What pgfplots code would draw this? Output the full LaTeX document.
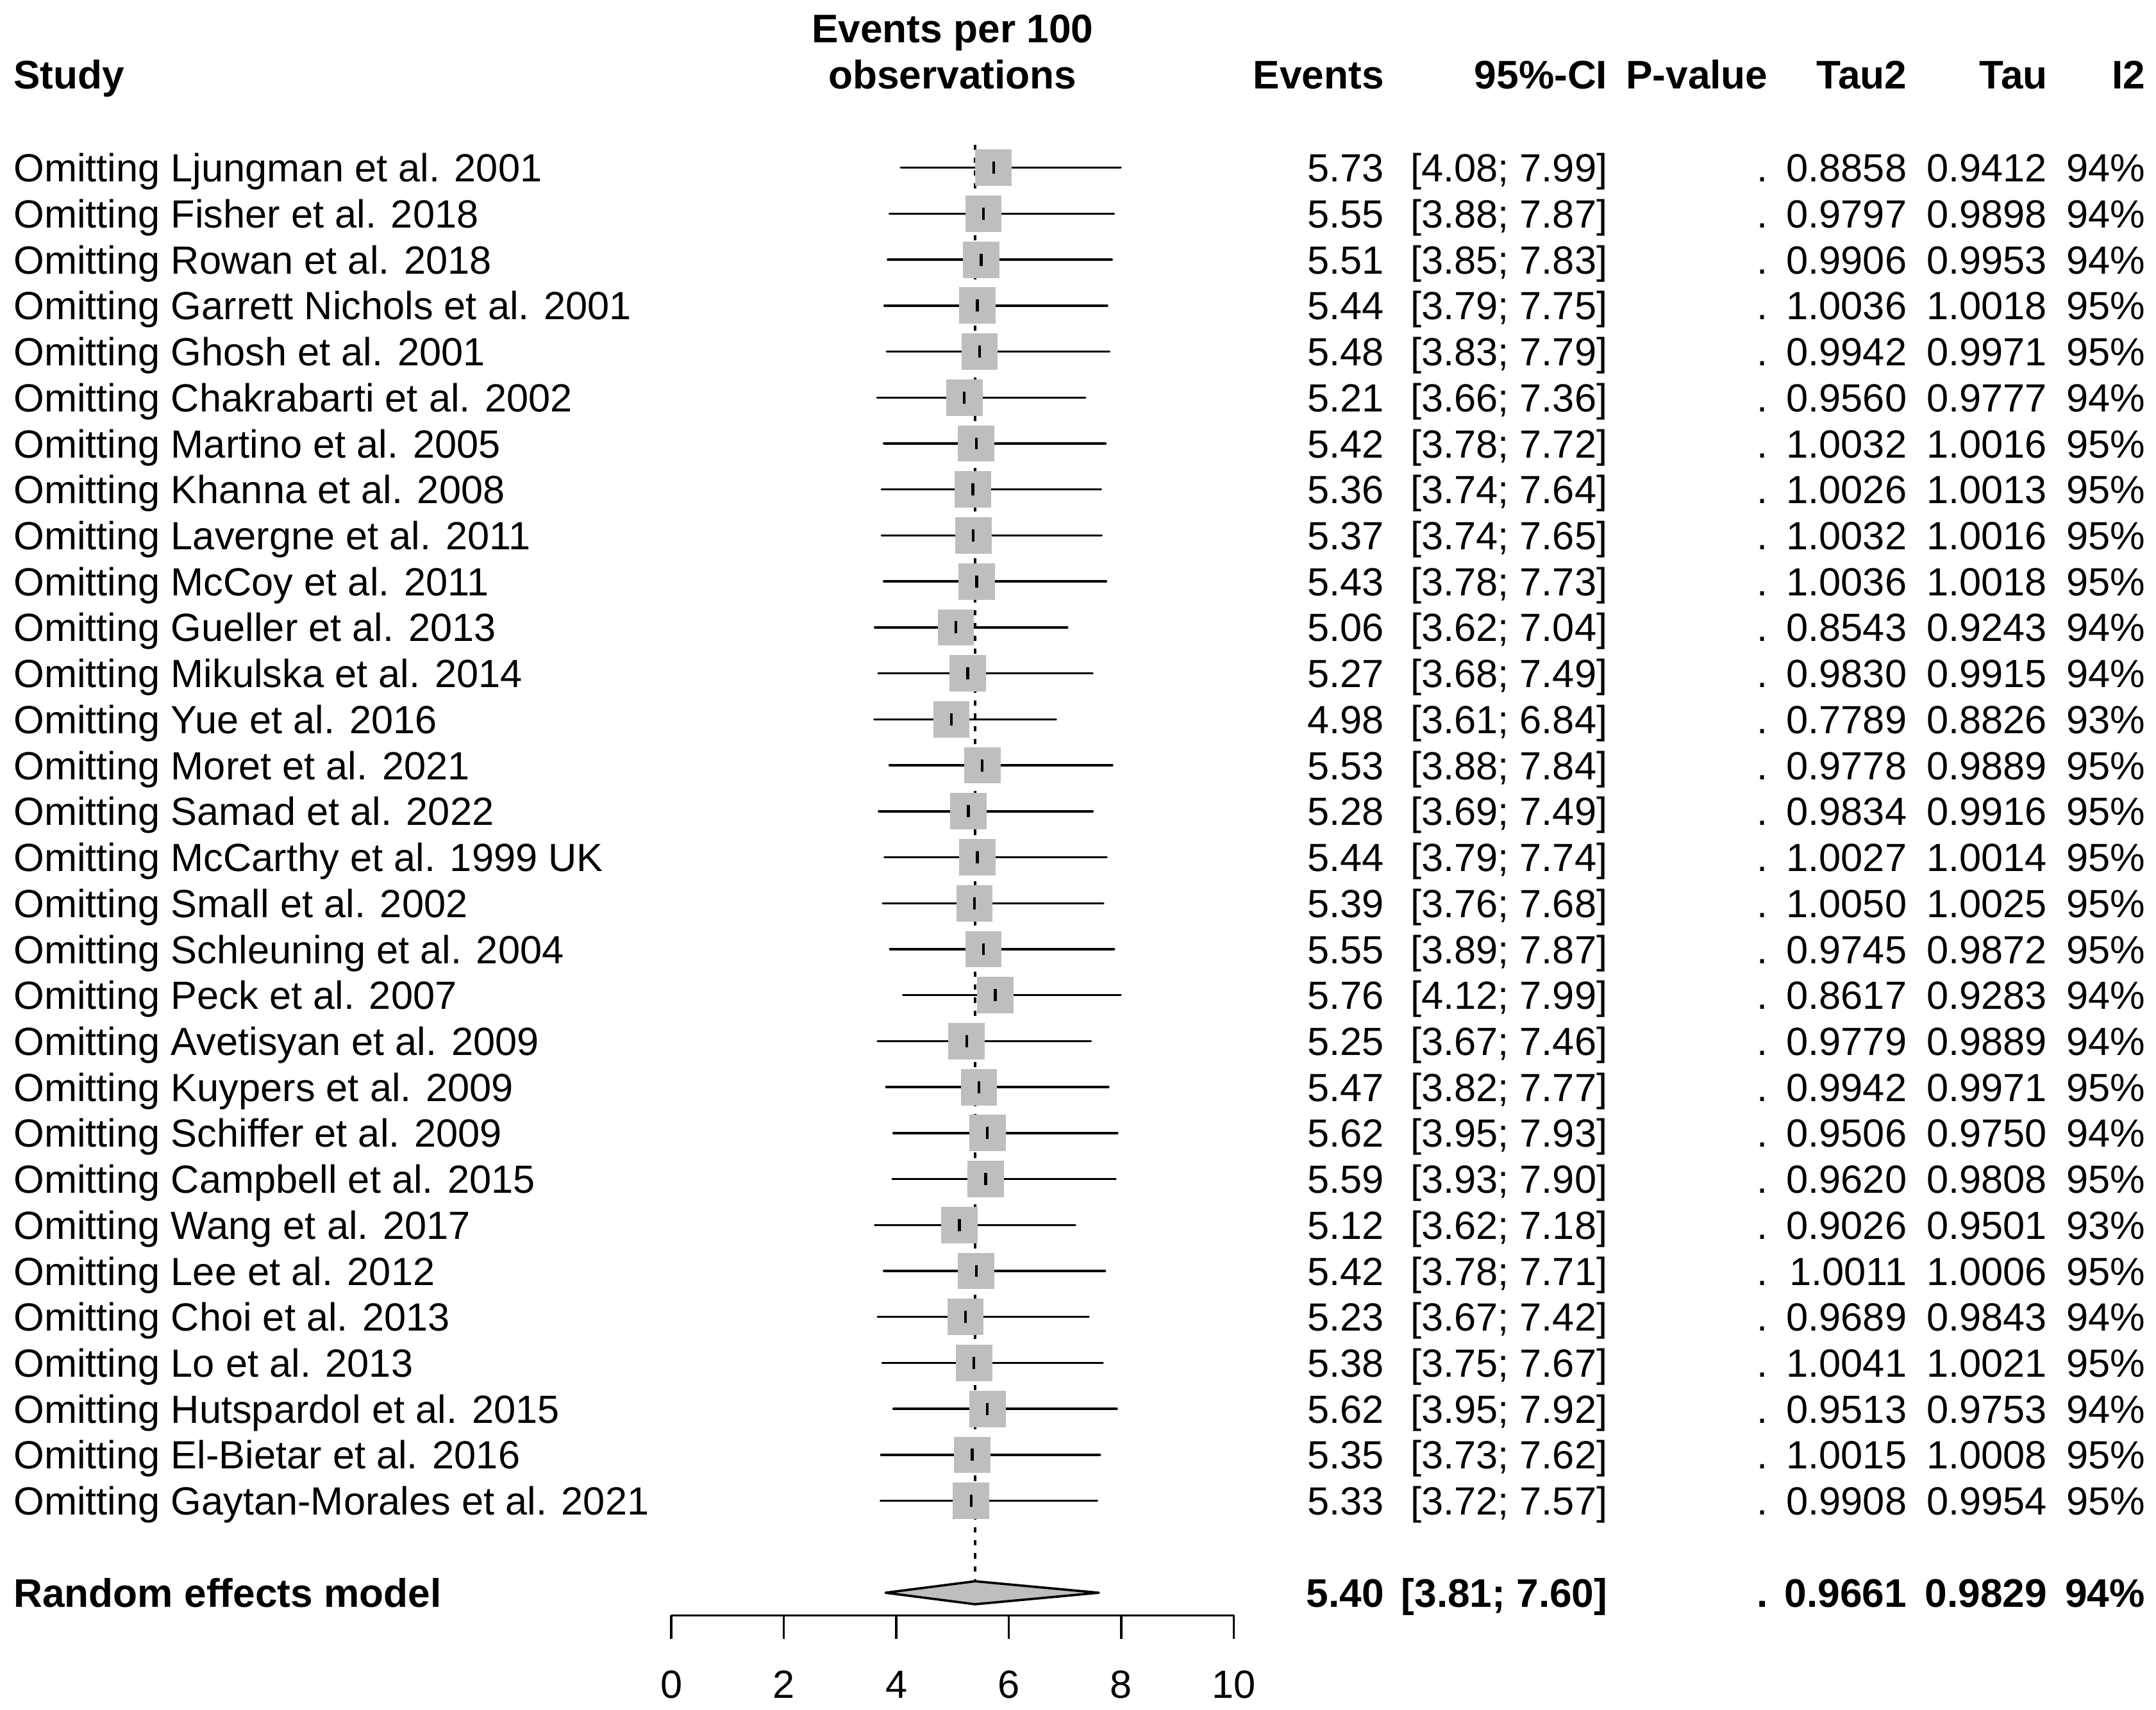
\documentclass[border=0pt]{standalone}
\usepackage{fontspec}
\setmainfont{Liberation Sans}
\usepackage{pgfplots}
\usepackage{pgfplotstable}
\pgfplotsset{compat=1.18}
\definecolor{boxgray}{RGB}{190,190,190}
\newcommand\fs{\fontsize{14.3}{17}\selectfont}
\newcommand\fb{\fontsize{14.5}{17}\selectfont\bfseries}

\pgfplotstableread{
row est lo hi
1 5.73 4.08 7.99
2 5.55 3.88 7.87
3 5.51 3.85 7.83
4 5.44 3.79 7.75
5 5.48 3.83 7.79
6 5.21 3.66 7.36
7 5.42 3.78 7.72
8 5.36 3.74 7.64
9 5.37 3.74 7.65
10 5.43 3.78 7.73
11 5.06 3.62 7.04
12 5.27 3.68 7.49
13 4.98 3.61 6.84
14 5.53 3.88 7.84
15 5.28 3.69 7.49
16 5.44 3.79 7.74
17 5.39 3.76 7.68
18 5.55 3.89 7.87
19 5.76 4.12 7.99
20 5.25 3.67 7.46
21 5.47 3.82 7.77
22 5.62 3.95 7.93
23 5.59 3.93 7.90
24 5.12 3.62 7.18
25 5.42 3.78 7.71
26 5.23 3.67 7.42
27 5.38 3.75 7.67
28 5.62 3.95 7.92
29 5.35 3.73 7.62
30 5.33 3.72 7.57
}\studies

\begin{document}
\begin{tikzpicture}
\useasboundingbox (0,0) rectangle (784pt,621.75pt);
\begin{axis}[at={(0,0)}, anchor=south west, scale only axis,
  width=784pt, height=621.75pt,
  xmin=-11.9335, xmax=26.3945, ymin=-2.6483, ymax=34.5377,
  y dir=reverse, hide axis, clip=false]
% reference line (random effects estimate)
\addplot[black, line width=0.75pt, dash pattern=on 1.9pt off 2.8pt]
  coordinates {(5.40,0.5) (5.40,31.75)};
% study squares
\addplot[only marks, mark=square*, mark size=6.5pt,
  mark options={fill=boxgray, draw=boxgray, line width=0pt}]
  table[x=est, y=row]{\studies};
% confidence intervals and point estimates
\addplot[only marks, black, mark=|, mark size=2.2pt,
  mark options={line width=1pt, black},
  error bars/.cd, x dir=both, x explicit, error mark=none,
  error bar style={line width=0.8pt, black, line cap=round}]
  table[x=est, y=row,
    x error plus expr=\thisrow{hi}-\thisrow{est},
    x error minus expr=\thisrow{est}-\thisrow{lo}]{\studies};
% random effects diamond
\addplot[fill=boxgray, draw=black, line width=0.85pt, line join=round]
  coordinates {(3.81,32) (5.40,31.75) (7.60,32) (5.40,32.25)} -- cycle;
\end{axis}

\begin{axis}[at={(244.1pt,34.25pt)}, anchor=south west, scale only axis,
  width=204.55pt, height=10pt,
  xmin=0, xmax=10, ymin=0, ymax=1,
  axis x line=bottom, axis y line=none,
  axis line style={-, line width=0.75pt, black},
  xtick={0,2,4,6,8,10}, xtick align=outside, major tick length=8.55pt,
  tick style={line width=0.75pt, black},
  xticklabel style={font=\fs, anchor=base, inner sep=0pt, yshift=-21.7pt},
  /pgf/number format/assume math mode=true]
\end{axis}

\begin{scope}[shift={(0,621.75pt)}, x=0.5pt, y=-0.5pt,
  every node/.style={inner sep=0pt, outer sep=0pt, font=\fs}]
% headers
\node[anchor=base west, font=\fb] at (10,64.4) {Study};
\node[anchor=base, font=\fb] at (692.75,31.0) {Events per 100};
\node[anchor=base, font=\fb] at (692.75,64.4) {observations};
\node[anchor=base east, font=\fb] at (1006.5,64.4) {Events};
\node[anchor=base east, font=\fb] at (1169,64.4) {95\%-CI};
\node[anchor=base east, font=\fb] at (1285.7,64.4) {P-value};
\node[anchor=base east, font=\fb] at (1386.7,64.4) {Tau2};
\node[anchor=base east, font=\fb] at (1489,64.4) {Tau};
\node[anchor=base east, font=\fb] at (1560,64.4) {I2};
% study rows
\foreach \i/\nm/\ev/\lo/\hi/\ta/\t/\ii in {
1/Ljungman et al. 2001/5.73/4.08/7.99/0.8858/0.9412/94,
2/Fisher et al. 2018/5.55/3.88/7.87/0.9797/0.9898/94,
3/Rowan et al. 2018/5.51/3.85/7.83/0.9906/0.9953/94,
4/Garrett Nichols et al. 2001/5.44/3.79/7.75/1.0036/1.0018/95,
5/Ghosh et al. 2001/5.48/3.83/7.79/0.9942/0.9971/95,
6/Chakrabarti et al. 2002/5.21/3.66/7.36/0.9560/0.9777/94,
7/Martino et al. 2005/5.42/3.78/7.72/1.0032/1.0016/95,
8/Khanna et al. 2008/5.36/3.74/7.64/1.0026/1.0013/95,
9/Lavergne et al. 2011/5.37/3.74/7.65/1.0032/1.0016/95,
10/McCoy et al. 2011/5.43/3.78/7.73/1.0036/1.0018/95,
11/Gueller et al. 2013/5.06/3.62/7.04/0.8543/0.9243/94,
12/Mikulska et al. 2014/5.27/3.68/7.49/0.9830/0.9915/94,
13/Yue et al. 2016/4.98/3.61/6.84/0.7789/0.8826/93,
14/Moret et al. 2021/5.53/3.88/7.84/0.9778/0.9889/95,
15/Samad et al. 2022/5.28/3.69/7.49/0.9834/0.9916/95,
16/McCarthy et al. 1999 UK/5.44/3.79/7.74/1.0027/1.0014/95,
17/Small et al. 2002/5.39/3.76/7.68/1.0050/1.0025/95,
18/Schleuning et al. 2004/5.55/3.89/7.87/0.9745/0.9872/95,
19/Peck et al. 2007/5.76/4.12/7.99/0.8617/0.9283/94,
20/Avetisyan et al. 2009/5.25/3.67/7.46/0.9779/0.9889/94,
21/Kuypers et al. 2009/5.47/3.82/7.77/0.9942/0.9971/95,
22/Schiffer et al. 2009/5.62/3.95/7.93/0.9506/0.9750/94,
23/Campbell et al. 2015/5.59/3.93/7.90/0.9620/0.9808/95,
24/Wang et al. 2017/5.12/3.62/7.18/0.9026/0.9501/93,
25/Lee et al. 2012/5.42/3.78/7.71/1.0011/1.0006/95,
26/Choi et al. 2013/5.23/3.67/7.42/0.9689/0.9843/94,
27/Lo et al. 2013/5.38/3.75/7.67/1.0041/1.0021/95,
28/Hutspardol et al. 2015/5.62/3.95/7.92/0.9513/0.9753/94,
29/El-Bietar et al. 2016/5.35/3.73/7.62/1.0015/1.0008/95,
30/Gaytan-Morales et al. 2021/5.33/3.72/7.57/0.9908/0.9954/95}{
  \pgfmathsetmacro\yy{88.56+33.44*\i+10.3}
  \node[anchor=base west] at (10,\yy) {Omitting \nm};
  \node[anchor=base east] at (1006.5,\yy) {\ev};
  \node[anchor=base east] at (1169,\yy) {[\lo; \hi]};
  \node[anchor=base east] at (1285.7,\yy) {.};
  \node[anchor=base east] at (1386.7,\yy) {\ta};
  \node[anchor=base east] at (1488.7,\yy) {\t};
  \node[anchor=base east] at (1560,\yy) {\ii\%};
}
% random effects row
\pgfmathsetmacro\yy{88.56+33.44*32+10.3}
\node[anchor=base west, font=\fb] at (10,\yy) {Random effects model};
\node[anchor=base east, font=\fb] at (1006.5,\yy) {5.40};
\node[anchor=base east, font=\fb] at (1169,\yy) {[3.81; 7.60]};
\node[anchor=base east, font=\fb] at (1285.7,\yy) {.};
\node[anchor=base east, font=\fb] at (1386.7,\yy) {0.9661};
\node[anchor=base east, font=\fb] at (1488.7,\yy) {0.9829};
\node[anchor=base east, font=\fb] at (1560,\yy) {94\%};
\end{scope}
\end{tikzpicture}
\end{document}
